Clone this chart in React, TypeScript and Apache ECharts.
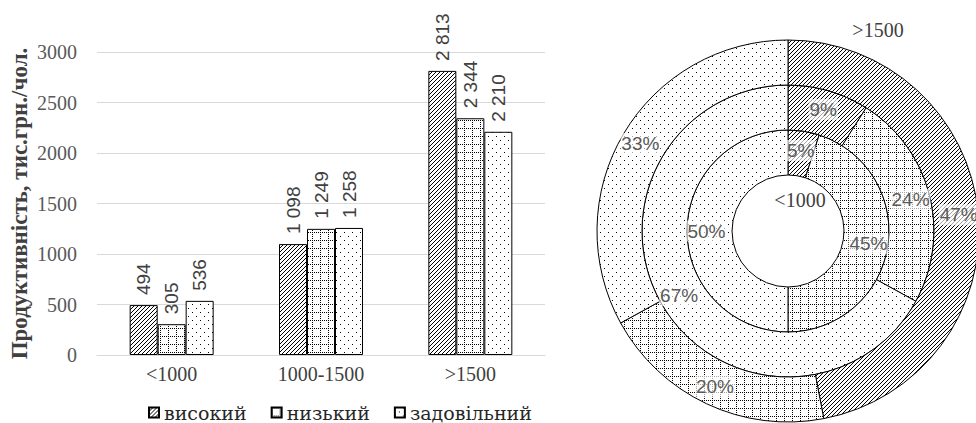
import React, { useEffect, useRef } from "react";
import * as echarts from "echarts";

const categories = ["<1000", "1000-1500", ">1500"];
const seriesNames = ["високий", "низький", "задовільний"];
const highValues = [494, 1098, 2813];
const lowValues = [305, 1249, 2344];
const fairValues = [536, 1258, 2210];
const yTicks = [0, 500, 1000, 1500, 2000, 2500, 3000];
const ringInner = [5, 45, 50]; // <1000
const ringMiddle = [9, 24, 67]; // 1000-1500
const ringOuter = [47, 20, 33]; // >1500

function makePattern(kind: string) {
  const c = document.createElement("canvas");
  c.width = 8;
  c.height = 8;
  const ctx = c.getContext("2d")!;
  ctx.fillStyle = "#ffffff";
  ctx.fillRect(0, 0, 8, 8);
  ctx.fillStyle = "#000000";
  for (let x = 0; x < 8; x++) {
    for (let y = 0; y < 8; y++) {
      let on = false;
      if (kind === "hatch") on = (x + y) % 4 === 3;
      if (kind === "grid") on = (y === 0 && x % 2 === 0) || (x === 0 && y % 2 === 0);
      if (kind === "dots") on = (x === 0 && y === 0) || (x === 4 && y === 4);
      if (on) ctx.fillRect(x, y, 1, 1);
    }
  }
  return { image: c.toDataURL(), repeat: "repeat", imageWidth: 8, imageHeight: 8 } as any;
}

const fmt = (v: number) => String(v).replace(/\B(?=(\d{3})+(?!\d))/g, " ");

export default function App() {
  const ref = useRef<HTMLDivElement>(null);
  useEffect(() => {
    if (!ref.current) return;
    const chart = echarts.init(ref.current, null, { renderer: "svg" });
    const pats = [makePattern("hatch"), makePattern("grid"), makePattern("dots")];
    const barData = [highValues, lowValues, fairValues];
    const serif = "Liberation Serif";
    const sans = "Liberation Sans";
    const legendFont = "DejaVu Serif";
    const barSeries = seriesNames.map((name, i) => ({
      type: "bar",
      name,
      data: barData[i],
      barWidth: 28,
      barGap: "0%",
      itemStyle: { color: pats[i], borderColor: "#000", borderWidth: 1 },
      label: {
        show: true,
        position: "top",
        rotate: 90,
        align: "left",
        verticalAlign: "middle",
        distance: 10,
        color: "#404040",
        fontFamily: sans,
        fontSize: 19,
        formatter: (p: any) => fmt(p.value),
      },
    }));
    const ring = (vals: number[], radius: number[]) => ({
      type: "pie",
      center: [788, 231],
      radius,
      startAngle: 90,
      clockwise: true,
      silent: true,
      data: vals.map((v, i) => ({ name: seriesNames[i], value: v, itemStyle: { color: pats[i] } })),
      itemStyle: { borderColor: "#000", borderWidth: 1 },
      label: {
        show: true,
        position: "inside",
        formatter: "{c}%",
        color: "#595959",
        fontFamily: sans,
        fontSize: 19,
        backgroundColor: "rgba(255,255,255,0.65)",
        padding: [1, 1],
      },
      labelLine: { show: false },
    });
    chart.setOption({
      animation: false,
      textStyle: { fontFamily: serif },
      grid: { left: 97, right: 431, top: 52, bottom: 68, containLabel: false },
      xAxis: {
        type: "category",
        data: categories,
        axisLine: { show: true, lineStyle: { color: "#d9d9d9", width: 1 } },
        axisTick: { show: false },
        axisLabel: { color: "#404040", fontFamily: serif, fontSize: 20, margin: 9 },
      },
      yAxis: {
        type: "value",
        min: yTicks[0],
        max: yTicks[yTicks.length - 1],
        interval: 500,
        name: "Продуктивність, тис.грн./чол.",
        nameLocation: "middle",
        nameGap: 66,
        nameTextStyle: { fontFamily: serif, fontWeight: "bold", fontSize: 23, color: "#404040" },
        axisLine: { show: false },
        axisTick: { show: false },
        splitLine: { lineStyle: { color: "#d9d9d9", width: 1 } },
        axisLabel: {
          color: "#595959",
          fontFamily: serif,
          fontSize: 20,
          margin: 20,
          formatter: (v: number) => String(v),
        },
      },
      legend: {
        data: seriesNames,
        left: 143,
        top: 398,
        itemWidth: 10,
        itemHeight: 10,
        itemGap: 24,
        icon: "rect",
        textStyle: { fontFamily: legendFont, fontSize: 19, color: "#262626" },
      },
      series: [
        ...barSeries,
        ring(ringInner, [56, 101]),
        ring(ringMiddle, [101, 146]),
        ring(ringOuter, [146, 191]),
      ],
      graphic: [
        {
          type: "text",
          x: 878,
          y: 30,
          style: { text: ">1500", fontFamily: serif, fontSize: 20, fill: "#404040", textAlign: "center", textVerticalAlign: "middle" },
        },
        {
          type: "text",
          x: 800,
          y: 200,
          style: { text: "<1000", fontFamily: serif, fontSize: 20, fill: "#404040", textAlign: "center", textVerticalAlign: "middle" },
        },
      ],
    });
    return () => chart.dispose();
  }, []);
  return <div ref={ref} style={{ position: "fixed", left: 0, top: 0, width: 976, height: 423, background: "#fff" }} />;
}
